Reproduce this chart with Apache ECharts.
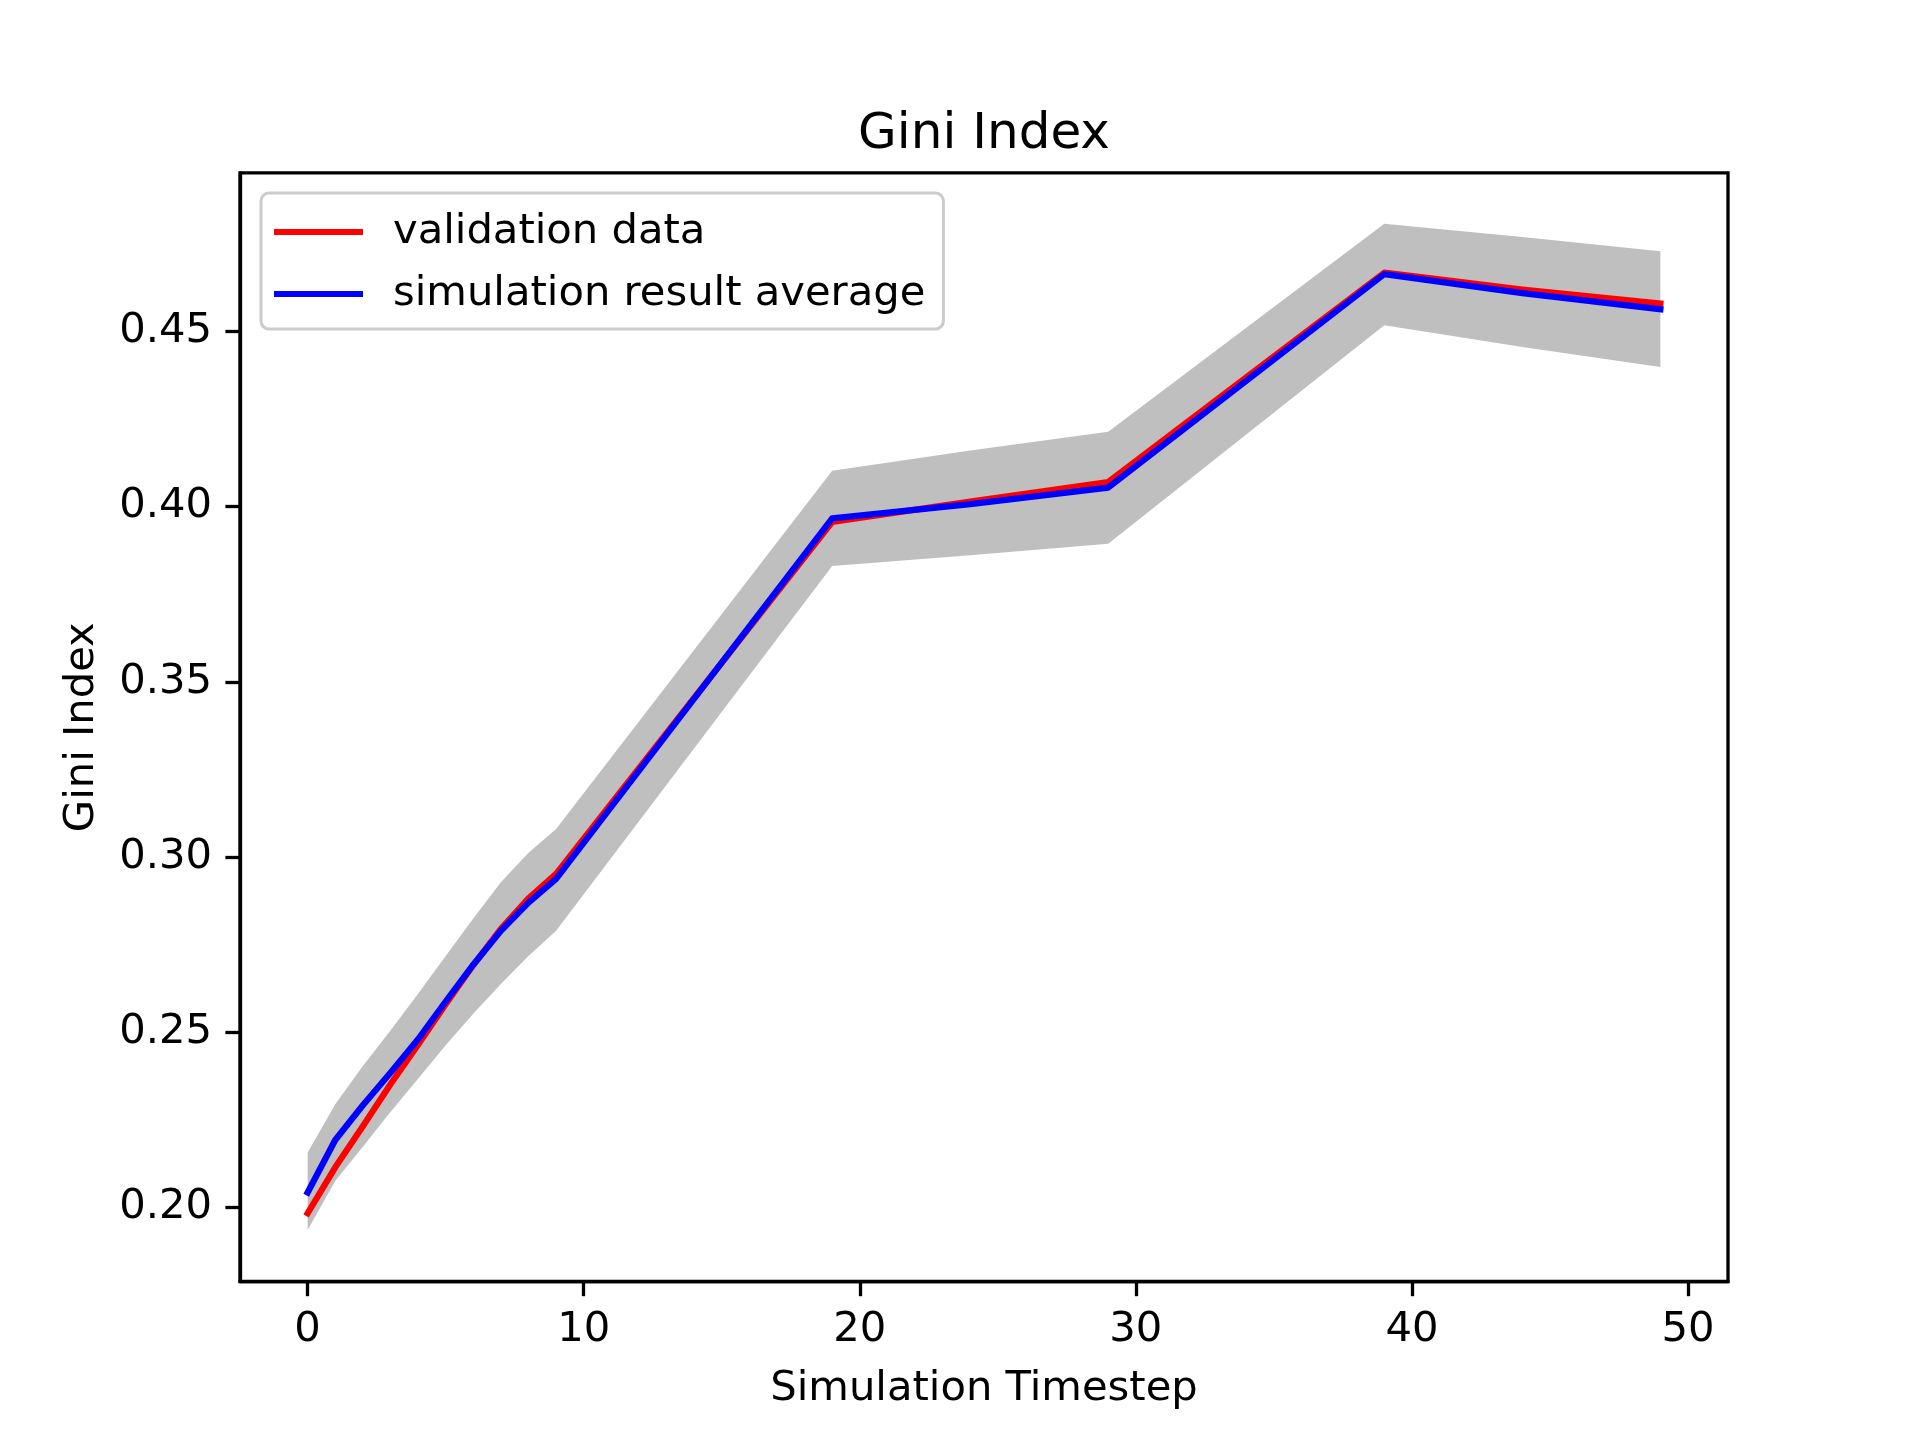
<!DOCTYPE html>
<html lang="en">
<head>
    <meta charset="UTF-8">
    <title>Gini Index</title>
    <script src="https://cdn.jsdelivr.net/npm/echarts@6/dist/echarts.min.js"></script>
    <style>
        html, body { margin: 0; padding: 0; background: #fff; }
    </style>
</head>
<body>
    <div id="chart" style="width: 1920px; height: 1440px;"></div>
    <script>
        // timesteps and values
        const timesteps = [0, 1, 2, 3, 4, 5, 6, 7, 8, 9, 19, 24, 29, 39, 44, 49];
        const validation = [0.1984, 0.2115, 0.2232, 0.2352, 0.2465, 0.2580, 0.2692, 0.2795, 0.2882, 0.2952, 0.3956, 0.4014, 0.4070, 0.4667, 0.4619, 0.4579];
        const simAverage = [0.2043, 0.2193, 0.2292, 0.2385, 0.2480, 0.2588, 0.2693, 0.2790, 0.2870, 0.2938, 0.3966, 0.4007, 0.4054, 0.4663, 0.4609, 0.4563];
        const bandUpper = [0.2157, 0.2295, 0.2404, 0.2505, 0.2610, 0.2718, 0.2825, 0.2928, 0.3012, 0.3080, 0.4102, 0.4160, 0.4213, 0.4807, 0.4769, 0.4728];
        const bandLower = [0.1936, 0.2076, 0.2174, 0.2273, 0.2368, 0.2463, 0.2553, 0.2638, 0.2718, 0.2790, 0.3830, 0.3861, 0.3894, 0.4517, 0.4455, 0.4398];

        const xTicks = [0, 10, 20, 30, 40, 50];
        const yTicks = [0.20, 0.25, 0.30, 0.35, 0.40, 0.45];

        const font = 'DejaVu Sans';
        const pair = arr => timesteps.map((t, i) => [t, arr[i]]);

        // shaded band: one polygon, upper edge forward then lower edge back
        function renderBand(params, api) {
            const pts = [];
            for (let i = 0; i < timesteps.length; i++) {
                pts.push(api.coord([timesteps[i], bandUpper[i]]));
            }
            for (let i = timesteps.length - 1; i >= 0; i--) {
                pts.push(api.coord([timesteps[i], bandLower[i]]));
            }
            return {
                type: 'polygon',
                shape: { points: pts },
                style: { fill: '#bfbfbf', stroke: null }
            };
        }

        const chart = echarts.init(document.getElementById('chart'));
        const option = {
            animation: false,
            backgroundColor: '#ffffff',
            title: {
                text: 'Gini Index',
                left: 984,
                top: 106,
                textAlign: 'center',
                padding: 0,
                textStyle: { fontFamily: font, fontSize: 50, fontWeight: 'normal', color: '#000', lineHeight: 58 }
            },
            legend: {
                data: ['validation data', 'simulation result average'],
                orient: 'vertical',
                left: 261,
                top: 193,
                padding: [18, 18, 14, 13],
                itemGap: 20,
                itemWidth: 89,
                itemHeight: 6,
                icon: 'rect',
                backgroundColor: 'rgba(255,255,255,0.8)',
                borderColor: '#cccccc',
                borderWidth: 3,
                borderRadius: 8,
                textStyle: { fontFamily: font, fontSize: 41.7, color: '#000', lineHeight: 42, padding: [0, 0, 0, 25] }
            },
            grid: {
                left: 240,
                right: 192,
                top: 172.8,
                bottom: 158.4,
                show: true,
                borderColor: '#000',
                borderWidth: 3.3,
                backgroundColor: 'transparent'
            },
            xAxis: {
                type: 'value',
                min: -2.45,
                max: 51.45,
                name: 'Simulation Timestep',
                nameLocation: 'middle',
                nameGap: 87,
                nameTextStyle: { fontFamily: font, fontSize: 41.7, color: '#000' },
                axisLine: { show: true, onZero: false, lineStyle: { color: '#000', width: 3.3 } },
                axisTick: { show: true, length: 14.6, lineStyle: { color: '#000', width: 3.3 }, customValues: xTicks },
                axisLabel: { fontFamily: font, fontSize: 41.7, color: '#000', margin: 28, customValues: xTicks },
                splitLine: { show: false }
            },
            yAxis: {
                type: 'value',
                min: 0.1789,
                max: 0.4952,
                name: 'Gini Index',
                nameLocation: 'middle',
                nameGap: 137,
                nameTextStyle: { fontFamily: font, fontSize: 41.7, color: '#000' },
                axisLine: { show: true, onZero: false, lineStyle: { color: '#000', width: 3.3 } },
                axisTick: { show: true, length: 14.6, lineStyle: { color: '#000', width: 3.3 }, customValues: yTicks },
                axisLabel: {
                    fontFamily: font, fontSize: 41.7, color: '#000', margin: 28,
                    customValues: yTicks,
                    formatter: v => v.toFixed(2)
                },
                splitLine: { show: false }
            },
            series: [
                {
                    name: 'band',
                    type: 'custom',
                    renderItem: renderBand,
                    data: [[timesteps[0], bandLower[0]]],
                    silent: true,
                    clip: true,
                    z: 1
                },
                {
                    name: 'validation data',
                    type: 'line',
                    data: pair(validation),
                    showSymbol: false,
                    color: '#ff0000',
                    lineStyle: { color: '#ff0000', width: 6.25, cap: 'square', join: 'round' },
                    z: 2
                },
                {
                    name: 'simulation result average',
                    type: 'line',
                    data: pair(simAverage),
                    showSymbol: false,
                    color: '#0000ff',
                    lineStyle: { color: '#0000ff', width: 6.25, cap: 'square', join: 'round' },
                    z: 3
                }
            ]
        };
        chart.setOption(option);
    </script>
</body>
</html>
